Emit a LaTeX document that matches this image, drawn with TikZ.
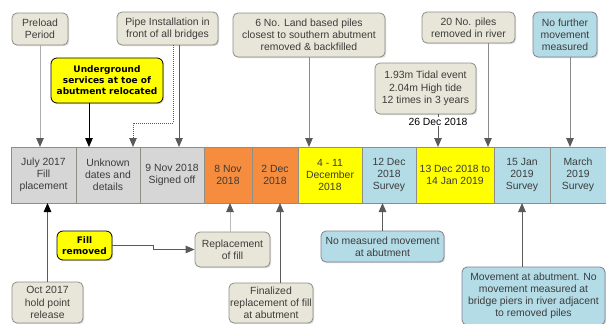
\documentclass[tikz,border=0pt]{standalone}
\usepackage{fontspec}
\setmainfont{Liberation Sans}
\newfontfamily\keyfont{DejaVu Sans}
\usetikzlibrary{positioning,shapes,arrows.meta,shadows}

\definecolor{calloutbg}{HTML}{E8E6D8}
\definecolor{callline}{HTML}{8E8E86}
\definecolor{cellgray}{HTML}{D6D6D6}
\definecolor{cellorange}{HTML}{F58C3E}
\definecolor{cellyellow}{HTML}{FFFF00}
\definecolor{cellblue}{HTML}{B4DCE6}
\definecolor{connline}{HTML}{8A8A8A}
\definecolor{conntip}{HTML}{5A5A5A}
\definecolor{txtgray}{HTML}{3C3C3C}

\tikzset{
  callout/.style={draw=callline, fill=calloutbg, rounded corners=5pt, align=center,
    text=txtgray, font=\fontsize{10.4}{12.2}\selectfont, inner sep=1pt, line width=0.8pt,
    drop shadow={shadow xshift=1.2pt, shadow yshift=-1.2pt, opacity=.3}},
  bluecall/.style={callout, fill=cellblue, draw=callline!90!blue},
  keybox/.style={draw=black, fill=cellyellow, rounded corners=6pt, align=center,
    font=\keyfont\bfseries\fontsize{9}{11}\selectfont, inner sep=1pt, line width=0.8pt,
    drop shadow={shadow xshift=1.2pt, shadow yshift=-1.2pt, opacity=.3}},
  cell/.style={draw=callline, line width=0.6pt, minimum height=56pt, outer sep=0pt,
    inner sep=0pt, align=center, text=txtgray, font=\fontsize{10.4}{12.2}\selectfont},
  conn/.style={draw=connline, line width=1pt, -{Triangle[length=9pt,width=7.5pt,color=conntip]}},
  darkconn/.style={draw=black, line width=1pt, -{Triangle[length=9pt,width=7.5pt,color=black]}},
}

\begin{document}
\begin{tikzpicture}[x=1pt,y=-1pt]
  \useasboundingbox (0,0) rectangle (606,324);

  % the timeline band
  \node[cell, fill=cellgray, minimum width=65pt, anchor=north west] (c1) at (11,147) {July 2017\\Fill\\placement};
  \node[cell, fill=cellgray, minimum width=64pt, right=0pt of c1] (c2) {Unknown\\dates and\\details};
  \node[cell, fill=cellgray, minimum width=64pt, right=0pt of c2] (c3) {9 Nov 2018\\Signed off};
  \node[cell, fill=cellorange, minimum width=48pt, right=0pt of c3] (c4) {8 Nov\\2018};
  \node[cell, fill=cellorange, minimum width=46pt, right=0pt of c4] (c5) {2 Dec\\2018};
  \node[cell, fill=cellyellow, minimum width=64pt, right=0pt of c5] (c6) {4 - 11\\December\\2018};
  \node[cell, fill=cellblue, minimum width=54pt, right=0pt of c6] (c7) {12 Dec\\2018\\Survey};
  \node[cell, fill=cellyellow, minimum width=78pt, right=0pt of c7] (c8) {13 Dec 2018 to\\14 Jan 2019};
  \node[cell, fill=cellblue, minimum width=56pt, right=0pt of c8] (c9) {15 Jan\\2019\\Survey};
  \node[cell, fill=cellblue, minimum width=56pt, right=0pt of c9] (c10) {March\\2019\\Survey};

  % events above the band
  \node[callout, minimum width=56pt, minimum height=32pt] (preload) at (40,29) {Preload\\Period};
  \node[callout, minimum width=101pt, minimum height=33pt] (pipe) at (167.5,28.5) {Pipe Installation in\\front of all bridges};
  \node[keybox, minimum width=112pt, minimum height=45pt] (services) at (107,80.5) {Underground\\services at toe of\\abutment relocated};
  \node[callout, minimum width=152pt, minimum height=44pt] (landpiles) at (309,35) {6 No. Land based piles\\closest to southern abutment\\removed \& backfilled};
  \node[callout, minimum width=101pt, minimum height=51pt] (tidal) at (425.5,88.5) {1.93m Tidal event\\2.04m High tide\\12 times in 3 years};
  \node[fill=white, inner sep=1pt, font=\fontsize{10.4}{12.2}\selectfont] (tidedate) at (438,121.5) {26 Dec 2018};
  \node[callout, minimum width=93pt, minimum height=31pt] (riverpiles) at (468.5,27.5) {20 No. piles\\removed in river};
  \node[bluecall, minimum width=64pt, minimum height=45pt] (nofurther) at (565,34.5) {No further\\movement\\measured};

  % events below the band
  \node[callout, minimum width=71pt, minimum height=41pt] (holdpoint) at (47.5,302.5) {Oct 2017\\hold point\\release};
  \node[keybox, minimum width=55pt, minimum height=29pt] (fillout) at (84.5,245.5) {Fill\\removed};
  \node[callout, minimum width=75pt, minimum height=35pt] (refill) at (232.5,249.5) {Replacement\\of fill};
  \node[callout, minimum width=84pt, minimum height=40pt] (finalfill) at (271,303) {Finalized\\replacement of fill\\at abutment};
  \node[bluecall, minimum width=123pt, minimum height=31pt] (nomove) at (382.5,246.5) {No measured movement\\at abutment};
  \node[bluecall, minimum width=143pt, minimum height=58pt] (move) at (533.5,296) {Movement at abutment. No\\movement measured at\\bridge piers in river adjacent\\to removed piles};

  % connectors into the top of the band
  \draw[conn, draw=connline!70] (preload) -- (preload |- c1.north);
  \draw[conn, densely dotted, draw=conntip] ([xshift=5.5pt]pipe.south) -- ++(0,78) -| ([xshift=25pt]c2.north);
  \draw[conn, draw=conntip] ([xshift=11.5pt]pipe.south) -- ([xshift=11.5pt]pipe.south |- c3.north);
  \draw[darkconn] ([xshift=-18pt]services.south) -- ([xshift=-18pt]services.south |- c2.north);
  \draw[conn] (landpiles) -- (landpiles |- c6.north);
  \draw[draw=conntip, line width=1pt] ([xshift=12.5pt]tidal.south) -- (tidedate);
  \draw[conn, draw=conntip] (tidedate) -- (tidedate |- c8.north);
  \draw[conn] ([xshift=19.5pt]riverpiles.south) -- ([xshift=19.5pt]riverpiles.south |- c8.north);
  \draw[conn] ([xshift=5pt]nofurther.south) -- ([xshift=5pt]nofurther.south |- c10.north);

  % connectors into the bottom of the band
  \draw[darkconn, draw=conntip] (holdpoint) -- (holdpoint |- c1.south);
  \draw[conn, draw=conntip] (fillout.east) -- ++(41,0) |- (refill.west);
  \draw[conn, draw=connline!60] ([xshift=-2.5pt]refill.north) -- ([xshift=-2.5pt]refill.north |- c4.south);
  \draw[conn, draw=conntip] ([xshift=9pt]finalfill.north) -- ([xshift=9pt]finalfill.north |- c5.south);
  \draw[conn, draw=conntip] (nomove) -- (nomove |- c7.south);
  \draw[conn, draw=conntip] ([xshift=-11.5pt]move.north) -- ([xshift=-11.5pt]move.north |- c9.south);
\end{tikzpicture}
\end{document}
